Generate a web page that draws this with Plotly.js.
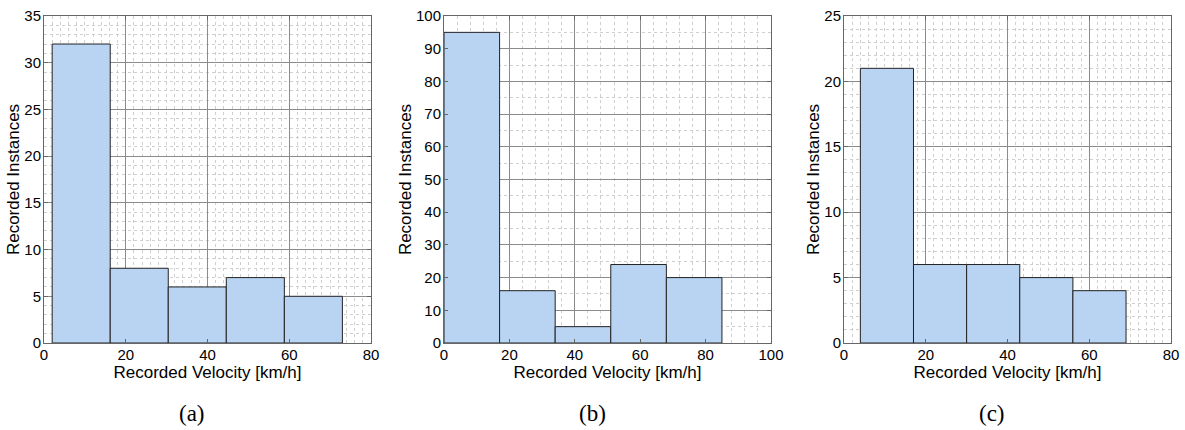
<!DOCTYPE html>
<html><head><meta charset="utf-8">
<script src="https://cdn.plot.ly/plotly-3.0.1.min.js"></script>
<style>html,body{margin:0;padding:0;background:#fff}#chart{width:1185px;height:430px}</style>
</head><body><div id="chart"></div>
<script>
// Histogram data
const edgesA = [2, 16.2, 30.4, 44.6, 58.8, 73];
const countsA = [32, 8, 6, 7, 5];
const edgesB = [0, 17, 34, 51, 68, 85];
const countsB = [95, 16, 5, 24, 20];
const edgesC = [4, 17, 30, 43, 56, 69];
const countsC = [21, 6, 6, 5, 4];
const captions = ['(a)', '(b)', '(c)'];
const xTitle = 'Recorded Velocity [km/h]';
const yTitle = 'Recorded Instances';

const W = 1185, H = 430;
const panels = [
  {edges: edgesA, counts: countsA, x0: 44, x1: 371, xr: [0, 80], yr: [0, 35], xd: 20, yd: 5, xm: 2, ym: 1, cap: 192},
  {edges: edgesB, counts: countsB, x0: 444, x1: 771, xr: [0, 100], yr: [0, 100], xd: 20, yd: 10, xm: 4, ym: 5, cap: 592},
  {edges: edgesC, counts: countsC, x0: 844, x1: 1171, xr: [0, 80], yr: [0, 25], xd: 20, yd: 5, xm: 2, ym: 1, cap: 992}
];
const yTop = 16, yBot = 343;

const data = [];
const layout = {
  width: W, height: H, margin: {l: 0, r: 0, t: 0, b: 0},
  paper_bgcolor: '#fff', plot_bgcolor: '#fff', showlegend: false,
  font: {family: 'Liberation Sans, Arial, sans-serif', color: '#000', size: 15},
  annotations: [], bargap: 0
};
panels.forEach((p, i) => {
  const n = i === 0 ? '' : String(i + 1);
  const centers = p.counts.map((_, k) => (p.edges[k] + p.edges[k + 1]) / 2);
  const widths = p.counts.map((_, k) => p.edges[k + 1] - p.edges[k]);
  data.push({
    type: 'bar', x: centers, y: p.counts, width: widths,
    xaxis: 'x' + n, yaxis: 'y' + n,
    marker: {color: '#b9d4f2', line: {color: '#222', width: 1}},
    hoverinfo: 'x+y'
  });
  const common = {
    showline: true, linecolor: '#666', linewidth: 1, mirror: 'ticks',
    ticks: 'inside', ticklen: 4, tickcolor: '#666',
    showgrid: true, gridcolor: '#8c8c8c', gridwidth: 1, zeroline: false,
    tickfont: {size: 15, family: 'Liberation Sans, Arial, sans-serif'},
    automargin: false, fixedrange: true
  };
  layout['xaxis' + n] = Object.assign({}, common, {
    domain: [p.x0 / W, p.x1 / W], range: p.xr, dtick: p.xd, tick0: 0,
    anchor: 'y' + n, ticklabelstandoff: -2,
    minor: {dtick: p.xm, showgrid: true, gridcolor: '#cfcfcf', griddash: 'dot', gridwidth: 1},
    title: {text: xTitle, font: {size: 17}, standoff: 0}
  });
  layout['yaxis' + n] = Object.assign({}, common, {
    domain: [1 - yBot / H, 1 - yTop / H], range: p.yr, dtick: p.yd, tick0: 0,
    anchor: 'x' + n, ticklabelstandoff: -1,
    minor: {dtick: p.ym, showgrid: true, gridcolor: '#cfcfcf', griddash: 'dot', gridwidth: 1},
    title: {text: yTitle, font: {size: 17}, standoff: 0}
  });
  layout.annotations.push({
    text: captions[i], xref: 'paper', yref: 'paper', x: p.cap / W, y: 1 - 413 / H,
    showarrow: false, xanchor: 'center', yanchor: 'middle',
    font: {family: 'Liberation Serif, DejaVu Serif, serif', size: 23, color: '#000'}
  });
});
Plotly.newPlot('chart', data, layout, {displayModeBar: false, staticPlot: true});
</script>
</body></html>
